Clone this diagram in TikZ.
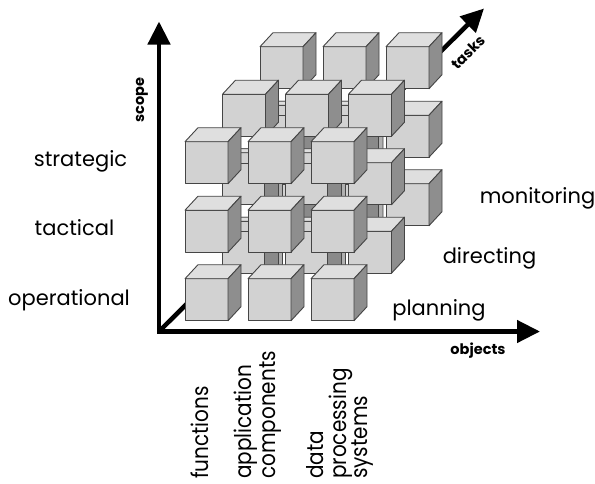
\documentclass[tikz,border=0pt]{standalone}
\usepackage{fontspec}
\setmainfont{Poppins}
\usetikzlibrary{arrows.meta}
\definecolor{cfront}{HTML}{D2D2D2}
\definecolor{ctop}{HTML}{DFDFDF}
\definecolor{cside}{HTML}{8E8E8E}
\definecolor{cedge}{HTML}{454545}
\definecolor{rodfront}{HTML}{8A8A8A}
\definecolor{rodside}{HTML}{B0B0B0}
\tikzset{
  edgeline/.style={draw=cedge, line width=0.9pt, line join=round},
  cubebox/.pic={
    \filldraw[edgeline, fill=cfront] (0,0) rectangle (43,42);
    \filldraw[edgeline, fill=ctop] (0,0) -- (13,-14) -- (56,-14) -- (43,0) -- cycle;
    \filldraw[edgeline, fill=cside] (43,0) -- (56,-14) -- (56,28) -- (43,42) -- cycle;
  },
  hrod/.pic={
    \filldraw[edgeline, fill=cfront] (40,11) rectangle (66,21.5);
    \filldraw[edgeline, fill=ctop] (40,11) -- (44,7) -- (70,7) -- (66,11) -- cycle;
  },
  vrod/.pic={
    \filldraw[edgeline, fill=rodside] (30,38) -- (34.5,33) -- (34.5,68) -- (30,73) -- cycle;
    \filldraw[edgeline, fill=rodfront] (16.5,38) rectangle (30,73);
  },
  axisline/.style={line width=4.5pt},
  lbl/.style={font=\fontsize{21}{24}\selectfont, inner sep=0pt},
  rlbl/.style={font=\fontsize{20}{24}\selectfont, inner sep=0pt, rotate=90, anchor=base west},
  axlbl/.style={font=\fontsize{14.5}{17}\selectfont\bfseries, inner sep=0pt},
}
\newcommand\cubelayer[1]{%
  \foreach \r in {0,1,2} {\foreach \c in {0,1,2} {
    \pic at ({185+63*\c+37.5*#1},{141.7+68.5*\r-47.5*#1}) {cubebox};
  }}}
\newcommand\hrodat[3]{\pic at ({185+63*#2+37.5*#1},{141.7+68.5*#3-47.5*#1}) {hrod};}
\newcommand\vrodat[3]{\pic at ({185+63*#2+37.5*#1},{141.7+68.5*#3-47.5*#1}) {vrod};}
\begin{document}
\begin{tikzpicture}[x=1pt,y=-1pt]
\useasboundingbox (0,0) rectangle (595,483);
\coordinate (O) at (159,331.5);
\coordinate (tasksTip) at (484,8.5);
\coordinate (scopeTip) at (159,21.5);
\coordinate (objTip) at (540,331.5);
% depth axis (behind cubes)
\draw[axisline, -{Triangle[length=23pt,width=22pt]}] (O) -- (tasksTip);
% back layer
\cubelayer{2}
% middle layer
\foreach \r in {0,1} {\foreach \c in {1,2} {\vrodat{1}{\c}{\r}}}
\foreach \r in {0,1,2} {\foreach \c in {0,1} {\hrodat{1}{\c}{\r}}}
\cubelayer{1}
% front layer
\foreach \r in {0,1} {\foreach \c in {1,2} {\vrodat{0}{\c}{\r}}}
\foreach \r in {0,1} {\foreach \c in {0,1} {\hrodat{0}{\c}{\r}}}
\cubelayer{0}
% scope and objects axes
\draw[axisline, line join=miter, {Triangle[length=23pt,width=22pt]}-{Triangle[length=23pt,width=22pt]}] (scopeTip) -- (O) -- (objTip);
% axis labels
\node[axlbl, rotate=90] (scope) at (142,100) {scope};
\node[axlbl, rotate=45] (tasks) at (468,52) {tasks};
\node[axlbl] (objects) at (478,351) {objects};
% scope labels
\node[lbl, anchor=base] (strategic) at (80.5,166) {strategic};
\node[lbl, anchor=base] (tactical) at (74.5,235) {tactical};
\node[lbl, anchor=base] (operational) at (69,305) {operational};
% task labels
\node[lbl, anchor=base] (monitoring) at (537.5,203) {monitoring};
\node[lbl, anchor=base] (directing) at (489.5,263) {directing};
\node[lbl, anchor=base] (planning) at (439,315) {planning};
% object labels
\node[rlbl] (functions) at (208,479) {\scalebox{1}[1.15]{functions}};
\node[rlbl] (application) at (251,479) {\scalebox{1}[1.15]{application}};
\node[rlbl] (components) at (275,479) {\scalebox{1}[1.15]{components}};
\node[rlbl] (data) at (323,479) {\scalebox{1}[1.15]{data}};
\node[rlbl] (processing) at (346,479) {\scalebox{1}[1.15]{processing}};
\node[rlbl] (systems) at (367,479) {\scalebox{1}[1.15]{systems}};
\end{tikzpicture}
\end{document}
